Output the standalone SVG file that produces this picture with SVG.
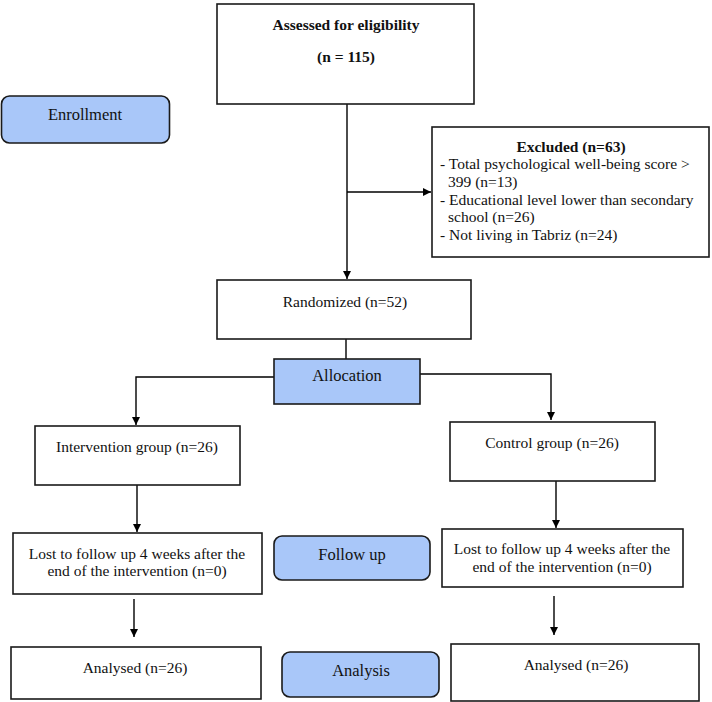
<svg xmlns="http://www.w3.org/2000/svg" width="712" height="702" viewBox="0 0 712 702" font-family="Liberation Serif, Times New Roman, serif">
<defs>
<marker id="arr" viewBox="0 0 10 10" refX="10" refY="5" markerWidth="8" markerHeight="8" markerUnits="userSpaceOnUse" orient="auto">
<path d="M0,0 L10,5 L0,10 z" fill="#000"/>
</marker>
<style>
.box{fill:#fff;stroke:#1a1a1a;stroke-width:1.6}
.blue{fill:#a9c7f9;stroke:#1a1a1a;stroke-width:1.6}
.t{font-size:15.5px;fill:#111}
.c{text-anchor:middle}
.b{font-weight:bold}
.lab{font-size:16.5px;fill:#111;text-anchor:middle}
.ln{fill:none;stroke:#000;stroke-width:1.4}
</style>
</defs>
<rect width="712" height="702" fill="#fff"/>

<g id="connectors">
<path class="ln" d="M347,104 V279" marker-end="url(#arr)"/>
<path class="ln" d="M347,192 H431" marker-end="url(#arr)"/>
<path class="ln" d="M346,339 V359"/>
<path class="ln" d="M274,377 H136 V425" marker-end="url(#arr)"/>
<path class="ln" d="M420,374 H551 V420" marker-end="url(#arr)"/>
<path class="ln" d="M137,485 V532" marker-end="url(#arr)"/>
<path class="ln" d="M556,481 V528" marker-end="url(#arr)"/>
<path class="ln" d="M134,599 V637" marker-end="url(#arr)"/>
<path class="ln" d="M554,596 V635" marker-end="url(#arr)"/>
</g>

<g id="assessed">
<rect class="box" x="217" y="4" width="257" height="100"/>
<text class="t c b" x="346" y="30">Assessed for eligibility</text>
<text class="t c b" x="346" y="62">(n = 115)</text>
</g>

<g id="enrollment">
<rect class="blue" x="1.5" y="96" width="168" height="47" rx="8"/>
<text class="lab" x="85" y="120">Enrollment</text>
</g>

<g id="excluded">
<rect class="box" x="432" y="127" width="277" height="130"/>
<text class="t c b" x="571" y="152">Excluded (n=63)</text>
<text class="t" x="440" y="169">- Total psychological well-being score &gt;</text>
<text class="t" x="448" y="187">399 (n=13)</text>
<text class="t" x="440" y="205">- Educational level lower than secondary</text>
<text class="t" x="448" y="222">school (n=26)</text>
<text class="t" x="440" y="240">- Not living in Tabriz (n=24)</text>
</g>

<g id="randomized">
<rect class="box" x="217" y="280" width="254" height="59"/>
<text class="t c" x="345" y="307">Randomized (n=52)</text>
</g>

<g id="allocation">
<rect class="blue" x="274" y="359" width="146" height="45"/>
<text class="lab" x="347" y="381">Allocation</text>
</g>

<g id="intervention">
<rect class="box" x="35" y="426" width="205" height="59"/>
<text class="t c" x="137" y="452">Intervention group (n=26)</text>
</g>

<g id="control">
<rect class="box" x="450" y="422" width="205" height="59"/>
<text class="t c" x="552" y="448">Control group (n=26)</text>
</g>

<g id="lost-left">
<rect class="box" x="13" y="533" width="249" height="61"/>
<text class="t c" x="137" y="559">Lost to follow up 4 weeks after the</text>
<text class="t c" x="137" y="576">end of the intervention (n=0)</text>
</g>

<g id="followup">
<rect class="blue" x="274" y="536" width="156" height="44" rx="8"/>
<text class="lab" x="352" y="560">Follow up</text>
</g>

<g id="lost-right">
<rect class="box" x="442" y="529" width="241" height="58"/>
<text class="t c" x="562" y="554">Lost to follow up 4 weeks after the</text>
<text class="t c" x="562" y="572">end of the intervention (n=0)</text>
</g>

<g id="analysed-left">
<rect class="box" x="11" y="647" width="250" height="52"/>
<text class="t c" x="135" y="673">Analysed (n=26)</text>
</g>

<g id="analysis">
<rect class="blue" x="282" y="652" width="157" height="45" rx="8"/>
<text class="lab" x="361" y="676">Analysis</text>
</g>

<g id="analysed-right">
<rect class="box" x="451" y="644" width="248" height="57"/>
<text class="t c" x="576" y="670">Analysed (n=26)</text>
</g>
</svg>
